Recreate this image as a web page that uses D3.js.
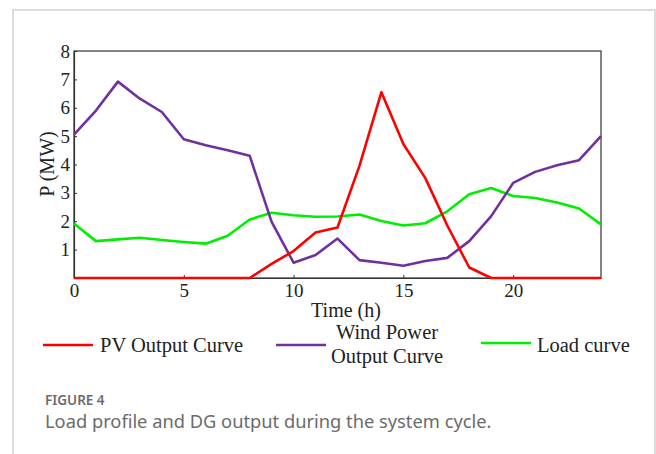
<!DOCTYPE html>
<html>
<head>
    <meta charset="utf-8">
    <style>
        body {
            margin: 0;
            background: white;
        }
        svg {
            display: block;
        }
        .tick text {
            font-family: 'Liberation Serif', 'Times New Roman', serif;
            font-size: 19px;
            fill: #222;
        }
        .serif {
            font-family: 'Liberation Serif', 'Times New Roman', serif;
            fill: #222;
        }
        .caption {
            font-family: 'Noto Sans', 'Open Sans', sans-serif;
            fill: #6b6b6b;
        }
    </style>
</head>
<body>
    <svg width="656" height="454"></svg>

<script src="https://d3js.org/d3.v7.min.js"></script>
<script>
    // hours 0..24
    let hours = d3.range(0, 25)

    let pv = [0, 0, 0, 0, 0, 0, 0, 0, 0, 0.5, 0.95, 1.6, 1.78, 3.95, 6.55, 4.72, 3.52, 1.85, 0.37, 0, 0, 0, 0, 0, 0]
    let wind = [5.05, 5.9, 6.92, 6.32, 5.85, 4.89, 4.68, 4.5, 4.31, 1.98, 0.54, 0.81, 1.39, 0.63, 0.54, 0.43, 0.6, 0.71, 1.3, 2.18, 3.35, 3.74, 3.97, 4.15, 5.0]
    let load = [1.92, 1.3, 1.36, 1.42, 1.34, 1.27, 1.21, 1.49, 2.06, 2.3, 2.21, 2.16, 2.17, 2.24, 2.01, 1.85, 1.93, 2.35, 2.95, 3.17, 2.89, 2.82, 2.66, 2.45, 1.89]

    let xTicks = [0, 5, 10, 15, 20]
    let yTicks = [1, 2, 3, 4, 5, 6, 7, 8]

    let seriesNames = ["PV Output Curve", "Wind Power Output Curve", "Load curve"]
    let seriesColors = ["#ff0000", "#7030a0", "#00ee00"]

    let svg = d3.select("svg")

    // card border of the figure
    svg.append("path")
        .attr("d", "M13,470 L13,10 L655,10 L655,470")
        .style("fill", "none")
        .style("stroke", "#dcdcdc")
        .style("stroke-width", 2)

    let plotLeft = 74, plotRight = 601, plotTop = 51, plotBottom = 278

    let x = d3.scaleLinear().domain([0, 24]).range([plotLeft, plotRight])
    let y = d3.scaleLinear().domain([0, 8]).range([plotBottom, plotTop])

    // frame
    svg.append("rect")
        .attr("x", plotLeft)
        .attr("y", plotTop)
        .attr("width", plotRight - plotLeft)
        .attr("height", plotBottom - plotTop)
        .style("fill", "none")
        .style("stroke", "#333")
        .style("stroke-width", 1.2)

    svg.append("g")
        .attr("transform", `translate(0,${plotBottom})`)
        .call(d3.axisBottom(x).tickValues(xTicks).tickSizeInner(-3).tickSizeOuter(0).tickPadding(6))
    svg.append("g")
        .attr("transform", `translate(${plotLeft},0)`)
        .call(d3.axisLeft(y).tickValues(yTicks).tickSizeInner(-3).tickSizeOuter(0).tickPadding(4))

    svg.selectAll(".domain").style("stroke", "#333").style("stroke-width", 1.2)
    svg.selectAll(".tick line").style("stroke", "#333")

    // axis titles
    svg.append("text")
        .attr("class", "serif")
        .attr("x", 346)
        .attr("y", 317)
        .attr("text-anchor", "middle")
        .style("font-size", "20px")
        .text("Time (h)")

    svg.append("text")
        .attr("class", "serif")
        .attr("transform", "translate(54,164) rotate(-90)")
        .attr("text-anchor", "middle")
        .style("font-size", "20px")
        .text("P (MW)")

    let line = d3.line()
        .x((d, i) => x(hours[i]))
        .y(d => y(d))

    let allSeries = [pv, wind, load]

    // draw load first, so the others sit on top like in the original
    svg.selectAll(".series")
        .data([2, 1, 0])
        .join("path")
        .attr("class", "series")
        .attr("d", k => line(allSeries[k]))
        .style("fill", "none")
        .style("stroke", k => seriesColors[k])
        .style("stroke-width", 2.6)
        .style("stroke-linejoin", "round")

    // legend
    let legendX = [43, 276, 481]
    let legendY = [345, 345, 343]

    svg.selectAll(".leg-line")
        .data([0, 1, 2])
        .join("line")
        .attr("x1", i => legendX[i])
        .attr("x2", i => legendX[i] + 50)
        .attr("y1", i => legendY[i])
        .attr("y2", i => legendY[i])
        .style("stroke", i => seriesColors[i])
        .style("stroke-width", 2.6)

    svg.append("text")
        .attr("class", "serif")
        .attr("x", 100)
        .attr("y", 352)
        .style("font-size", "20.5px")
        .text(seriesNames[0])

    let windLabel = svg.append("text")
        .attr("class", "serif")
        .attr("text-anchor", "middle")
        .style("font-size", "20.5px")
    windLabel.append("tspan").attr("x", 387).attr("y", 339).text("Wind Power")
    windLabel.append("tspan").attr("x", 387).attr("y", 363).text("Output Curve")

    svg.append("text")
        .attr("class", "serif")
        .attr("x", 537)
        .attr("y", 352)
        .style("font-size", "20.5px")
        .text(seriesNames[2])

    // caption
    svg.append("text")
        .attr("class", "caption")
        .attr("x", 45)
        .attr("y", 405)
        .style("font-size", "13.5px")
        .style("font-weight", 600)
        .text("FIGURE 4")

    svg.append("text")
        .attr("class", "caption")
        .attr("x", 45)
        .attr("y", 428)
        .style("font-size", "18.3px")
        .text("Load profile and DG output during the system cycle.")
</script>
</body>
</html>
